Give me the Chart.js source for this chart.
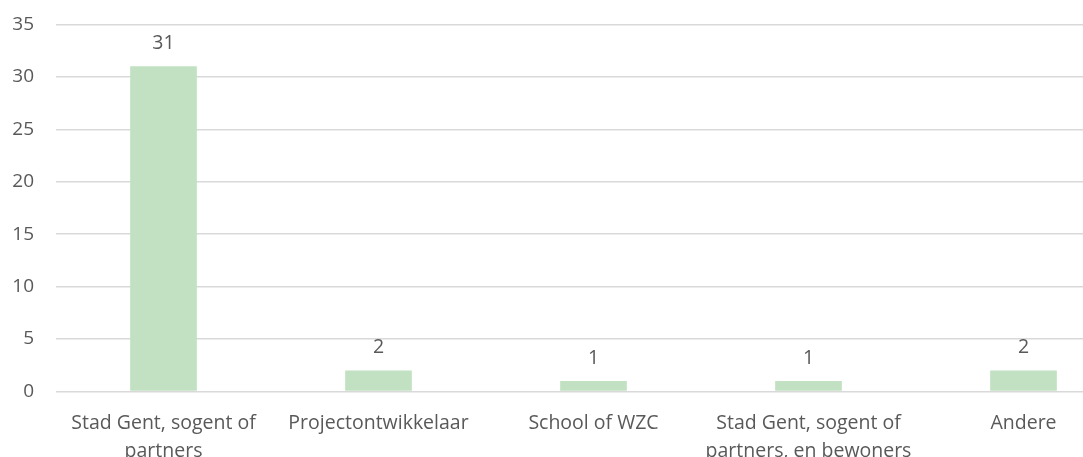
<!DOCTYPE html>
<html><head><meta charset="utf-8">
<script src="https://cdn.jsdelivr.net/npm/chart.js@4/dist/chart.umd.min.js"></script>
<style>
html,body{margin:0;padding:0;background:#fff;overflow:hidden;width:1083px;height:457px;}
#wrap{position:absolute;left:0;top:-9px;width:1131px;height:489px;}
</style></head>
<body>
<div id="wrap"><canvas id="c"></canvas></div>
<script>
const categories = [["Stad Gent, sogent of","partners"],"Projectontwikkelaar","School of WZC",["Stad Gent, sogent of","partners, en bewoners"],"Andere"];
const values = [31,2,1,1,2];
const yTicks = [0,5,10,15,20,25,30,35];

const FONT = "'Open Sans'";
const TXT = "#595959";

const labelPlugin = {
  id:'vlabels',
  afterDatasetsDraw(chart){
    const ctx = chart.ctx;
    const meta = chart.getDatasetMeta(0);
    ctx.save();
    ctx.font = "400 19.5px " + FONT;
    ctx.fillStyle = TXT;
    ctx.textAlign = 'center';
    ctx.textBaseline = 'middle';
    meta.data.forEach((bar,i)=>{
      ctx.fillText(String(values[i]), bar.x, bar.y - 23);
    });
    ctx.restore();
  }
};

new Chart(document.getElementById('c'),{
  type:'bar',
  data:{labels:categories,datasets:[{data:values,backgroundColor:'#C2E1C2',barPercentage:0.31,categoryPercentage:1}]},
  options:{
    responsive:true,maintainAspectRatio:false,animation:false,
    layout:{padding:{top:16,left:0,right:0,bottom:0}},
    plugins:{legend:{display:false},tooltip:{enabled:false}},
    scales:{
      x:{
        grid:{display:false},border:{display:false},
        ticks:{color:TXT,font:{family:FONT,size:19.5,weight:400,lineHeight:1.43},padding:10,maxRotation:0,autoSkip:false},
        afterFit(s){s.height=88.5;}
      },
      y:{
        min:0,max:35,
        afterBuildTicks(s){s.ticks=yTicks.map(v=>({value:v}));},
        grid:{color:'#D9D9D9',lineWidth:1.5,drawTicks:false},border:{display:false},
        ticks:{color:TXT,font:{family:FONT,size:19,weight:400},padding:22},
        afterFit(s){s.width=56;}
      }
    }
  },
  plugins:[labelPlugin]
});
</script>
</body></html>
